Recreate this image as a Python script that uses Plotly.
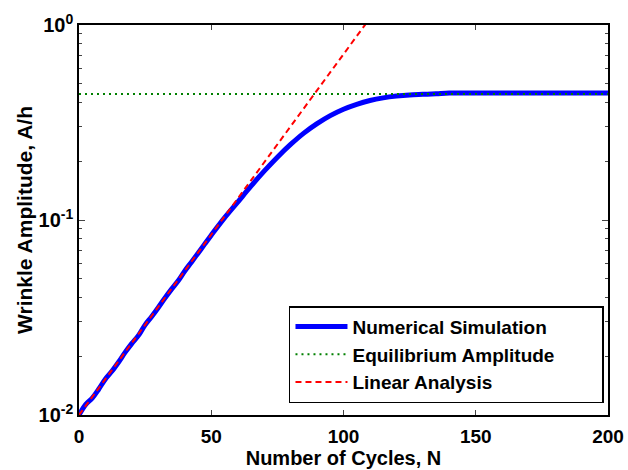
import plotly.graph_objects as go

# Numerical simulation
sim_n = [0, 2.5, 5, 7.5, 10, 12.5, 15, 17.5, 20, 22.5, 25, 27.5, 30, 32.5, 35, 37.5, 40, 42.5, 45, 47.5,
         50, 55, 60, 65, 70, 75, 80, 85, 90, 95, 100, 105, 110, 115, 120, 125, 130, 135, 140,
         150, 160, 170, 180, 190, 200]
sim_a = [0.0100, 0.0113, 0.0122, 0.0136, 0.0153, 0.0168, 0.0187, 0.0210, 0.0233, 0.0256, 0.0290, 0.0320,
         0.0356, 0.0398, 0.0442, 0.0488, 0.0548, 0.0608, 0.0676, 0.0752,
         0.0836, 0.1025, 0.1235, 0.1490, 0.1780, 0.2100, 0.2440, 0.2790, 0.3120, 0.3430, 0.3700,
         0.3920, 0.4100, 0.4230, 0.4320, 0.4380, 0.4410, 0.4440, 0.4480,
         0.4480, 0.4480, 0.4480, 0.4480, 0.4480, 0.4480]

# Equilibrium amplitude
eq_n = [0, 200]
eq_a = [0.443, 0.443]

# Linear analysis
lin_n = [0, 120]
lin_a = [0.0100, 1.66]

series_names = ["Numerical Simulation", "Equilibrium Amplitude", "Linear Analysis"]

y_tickvals = [0.01, 0.1, 1]
y_ticktext = ["10<sup>-2</sup>", "10<sup>-1</sup>", "10<sup>0</sup>"]
y_minor = [0.02, 0.03, 0.04, 0.05, 0.06, 0.07, 0.08, 0.09,
           0.2, 0.3, 0.4, 0.5, 0.6, 0.7, 0.8, 0.9]
x_tickvals = [0, 50, 100, 150, 200]

FONT = "Liberation Sans, Arial, Helvetica, sans-serif"
PAD = "\u00a0" * 8

fig = go.Figure()
fig.add_trace(go.Scatter(x=sim_n, y=sim_a, mode="lines", name=series_names[0],
                         line=dict(color="#0000ff", width=5), line_shape="spline"))
fig.add_trace(go.Scatter(x=eq_n, y=eq_a, mode="lines", name=series_names[1] + PAD,
                         line=dict(color="#008000", width=2, dash="2px,4px")))
fig.add_trace(go.Scatter(x=lin_n, y=lin_a, mode="lines", name=series_names[2],
                         line=dict(color="#ff0000", width=2, dash="6px,4px")))

fig.update_layout(
    width=628, height=470,
    margin=dict(l=79, r=20, t=25, b=55, autoexpand=False),
    paper_bgcolor="white", plot_bgcolor="white",
    font=dict(family=FONT, color="black", size=18, weight="bold"),
    showlegend=True,
    legend=dict(x=0.9924, y=0.279, xanchor="right", yanchor="top",
                bgcolor="white", bordercolor="black", borderwidth=1.5,
                font=dict(family=FONT, size=19, color="black", weight="bold"),
                tracegroupgap=0, itemwidth=52),
)
fig.update_xaxes(
    range=[0, 200], tickvals=x_tickvals, ticks="inside", ticklen=5, tickwidth=1,
    showline=True, linecolor="black", linewidth=1.5, mirror="ticks",
    showgrid=False, zeroline=False, automargin=False, ticklabelstandoff=3,
    tickfont=dict(family=FONT, size=19, weight="bold"),
    title=dict(text="Number of Cycles, N", font=dict(family=FONT, size=20, weight="bold"), standoff=4),
)
fig.update_yaxes(
    type="log", range=[-2, 0], tickvals=y_tickvals, ticktext=y_ticktext,
    ticks="inside", ticklen=6, tickwidth=1,
    minor=dict(tickvals=y_minor, ticks="inside", ticklen=3, tickwidth=1, showgrid=False),
    showline=True, linecolor="black", linewidth=1.5, mirror="ticks",
    showgrid=False, zeroline=False, automargin=False,
    tickfont=dict(family=FONT, size=20, weight="bold"),
    title=dict(text="Wrinkle Amplitude, A/h", font=dict(family=FONT, size=21, weight="bold"), standoff=0),
)

fig.write_html("out.html")
